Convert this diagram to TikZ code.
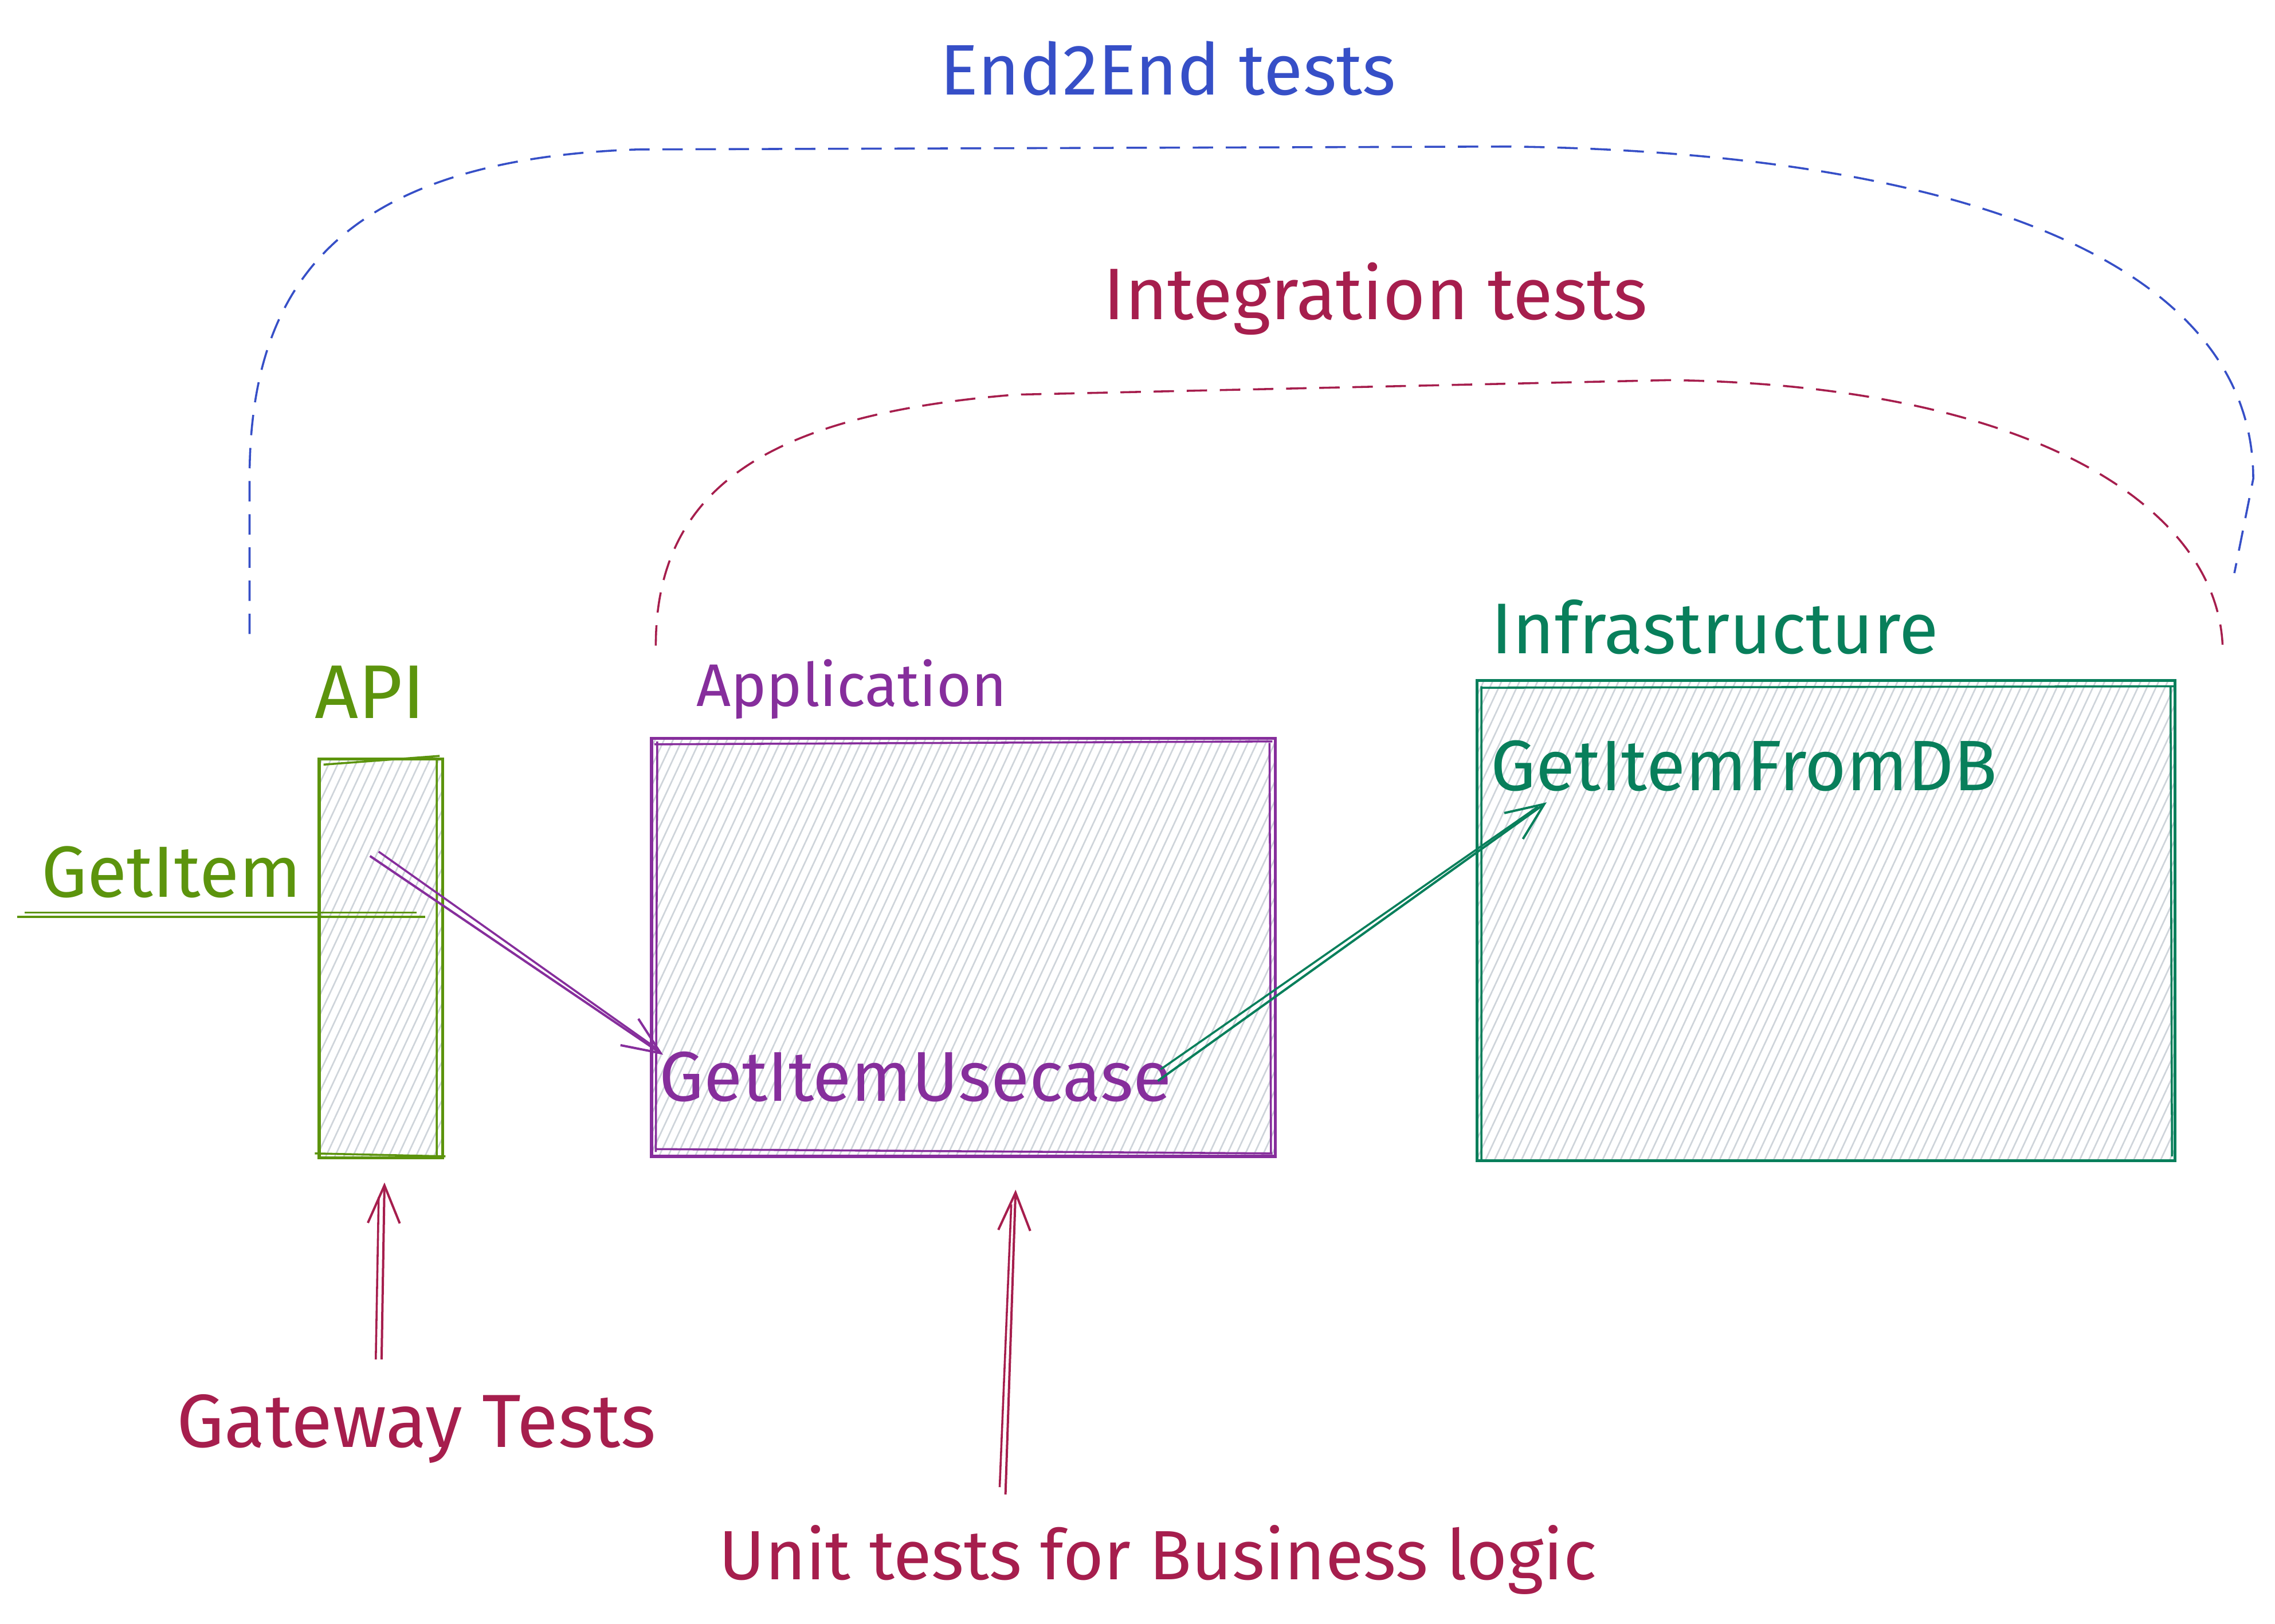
\documentclass[tikz,border=0pt]{standalone}
\usepackage{fontspec}
\setmainfont{Fira Sans}
\usepackage{graphicx}
\usetikzlibrary{arrows.meta,patterns.meta}
\definecolor{eblue}{HTML}{364FC7}
\definecolor{crim}{HTML}{A61E4D}
\definecolor{apig}{HTML}{5C940D}
\definecolor{purp}{HTML}{862E9C}
\definecolor{infg}{HTML}{087F5B}
\definecolor{hatchc}{HTML}{CED4DA}
\newcommand{\fitto}[2]{\resizebox{#1}{!}{#2}}
\tikzset{
  lbl/.style={inner sep=0pt, outer sep=0pt},
  boxst/.style={draw, line width=0.6pt, inner sep=0pt, outer sep=0pt,
    pattern={Lines[angle=65,distance=1.6pt,line width=0.3pt]}, pattern color=hatchc},
  sketch/.style={line width=0.4pt},
  dsh/.style={line width=0.4pt, dash pattern=on 4pt off 2.5pt},
  arr/.style={line width=0.45pt, -{Straight Barb[length=2.6mm,width=2.2mm]}},
}
\begin{document}
\begin{tikzpicture}[x=0.1mm,y=-0.1mm]
\useasboundingbox (0,0) rectangle (1568,1119);
% labels
\node[lbl,text=eblue] (e2e) at (805,47) {\fitto{31.4mm}{End2End tests}};
\node[lbl,text=crim] (integ) at (948,206) {\fitto{37.5mm}{Integration tests}};
\node[lbl,text=apig] (apil) at (255,477) {\fitto{7.6mm}{API}};
\node[lbl,text=purp] (appl) at (587,475) {\fitto{21.4mm}{Application}};
\node[lbl,text=infg] (infl) at (1182,432) {\fitto{30.8mm}{Infrastructure}};
% boxes
\node[boxst,draw=apig,minimum width=8.5mm,minimum height=27.5mm] (api) at (262.5,660.5) {};
\node[boxst,draw=purp,minimum width=43mm,minimum height=28.8mm] (app) at (664,653) {};
\node[boxst,draw=infg,minimum width=48.1mm,minimum height=33.1mm] (inf) at (1258.5,634.5) {};
% sketch second strokes
\draw[sketch,apig] ([shift={(3,4)}]api.north west) -- ([shift={(-2,-2)}]api.north east)
  ([shift={(-4,0)}]api.north east) -- ([shift={(-4,0)}]api.south east)
  ([shift={(-3,-3)}]api.south west) -- ([shift={(2,-1)}]api.south east);
\draw[sketch,purp] ([shift={(2,4)}]app.north west) -- ([shift={(-2,2)}]app.north east)
  ([shift={(-4,3)}]app.north east) -- ([shift={(-3,-2)}]app.south east)
  ([shift={(4,2)}]app.north west) -- ([shift={(3,-3)}]app.south west)
  ([shift={(3,-5)}]app.south west) -- ([shift={(-2,-2)}]app.south east);
\draw[sketch,infg] ([shift={(3,5)}]inf.north west) -- ([shift={(-1,4)}]inf.north east)
  ([shift={(-3,4)}]inf.north east) -- ([shift={(-2,-3)}]inf.south east)
  ([shift={(3,4)}]inf.north west) -- ([shift={(3,-1)}]inf.south west);
% inner labels
\node[lbl,text=apig] (gi) at (118,601) {\fitto{17.9mm}{GetItem}};
\node[lbl,text=purp] (uc) at (631,742) {\fitto{35.3mm}{GetItemUsecase}};
\node[lbl,text=infg] (db) at (1202,528) {\fitto{34.9mm}{GetItemFromDB}};
\node[lbl,text=crim] (gw) at (287,985) {\fitto{33mm}{Gateway Tests}};
\node[lbl,text=crim] (ut) at (798,1075) {\fitto{60.5mm}{Unit tests for Business logic}};
% GetItem line
\coordinate (gl1) at (12,632);
\coordinate (gl2) at (293,632);
\draw[sketch,apig,line width=0.5pt] (gl1) -- (gl2);
\draw[sketch,apig] ([shift={(5,-3)}]gl1) -- ([shift={(-6,-3)}]gl2);
% arrows
\coordinate (pa1) at (255,590);
\coordinate (pa2) at (457,727);
\draw[arr,purp] (pa1) -- (pa2);
\draw[sketch,purp] ([shift={(6,-3)}]pa1) -- ([shift={(-4,-4)}]pa2);
\coordinate (ga1) at (798,745);
\coordinate (ga2) at (1066,553);
\draw[arr,infg] (ga1) -- (ga2);
\draw[sketch,infg] ([shift={(2,-8)}]ga1) -- ([shift={(-6,3)}]ga2);
\coordinate (gt1) at (263,937);
\coordinate (gt2) at (265,815);
\draw[arr,crim] (gt1) -- (gt2);
\draw[sketch,crim] ([shift={(-4,0)}]gt1) -- ([shift={(-4,10)}]gt2);
\coordinate (ut1) at (693,1030);
\coordinate (ut2) at (700,820);
\draw[arr,crim] (ut1) -- (ut2);
\draw[sketch,crim] ([shift={(-4,-5)}]ut1) -- ([shift={(-3,10)}]ut2);
% dashed brackets
\coordinate (e2eA) at (172,437);
\coordinate (e2eB) at (1540,395);
\draw[dsh,eblue] (e2eA) -- (172,330) .. controls (172,200) and (230,110) .. (440,103)
  -- (1040,101) .. controls (1350,105) and (1553,180) .. (1553,330) -- (e2eB);
\coordinate (inA) at (452,445);
\coordinate (inB) at (1532,450);
\draw[dsh,crim] (inA) .. controls (452,330) and (540,285) .. (700,272)
  -- (1150,262) .. controls (1400,265) and (1532,350) .. (inB);
\end{tikzpicture}
\end{document}
